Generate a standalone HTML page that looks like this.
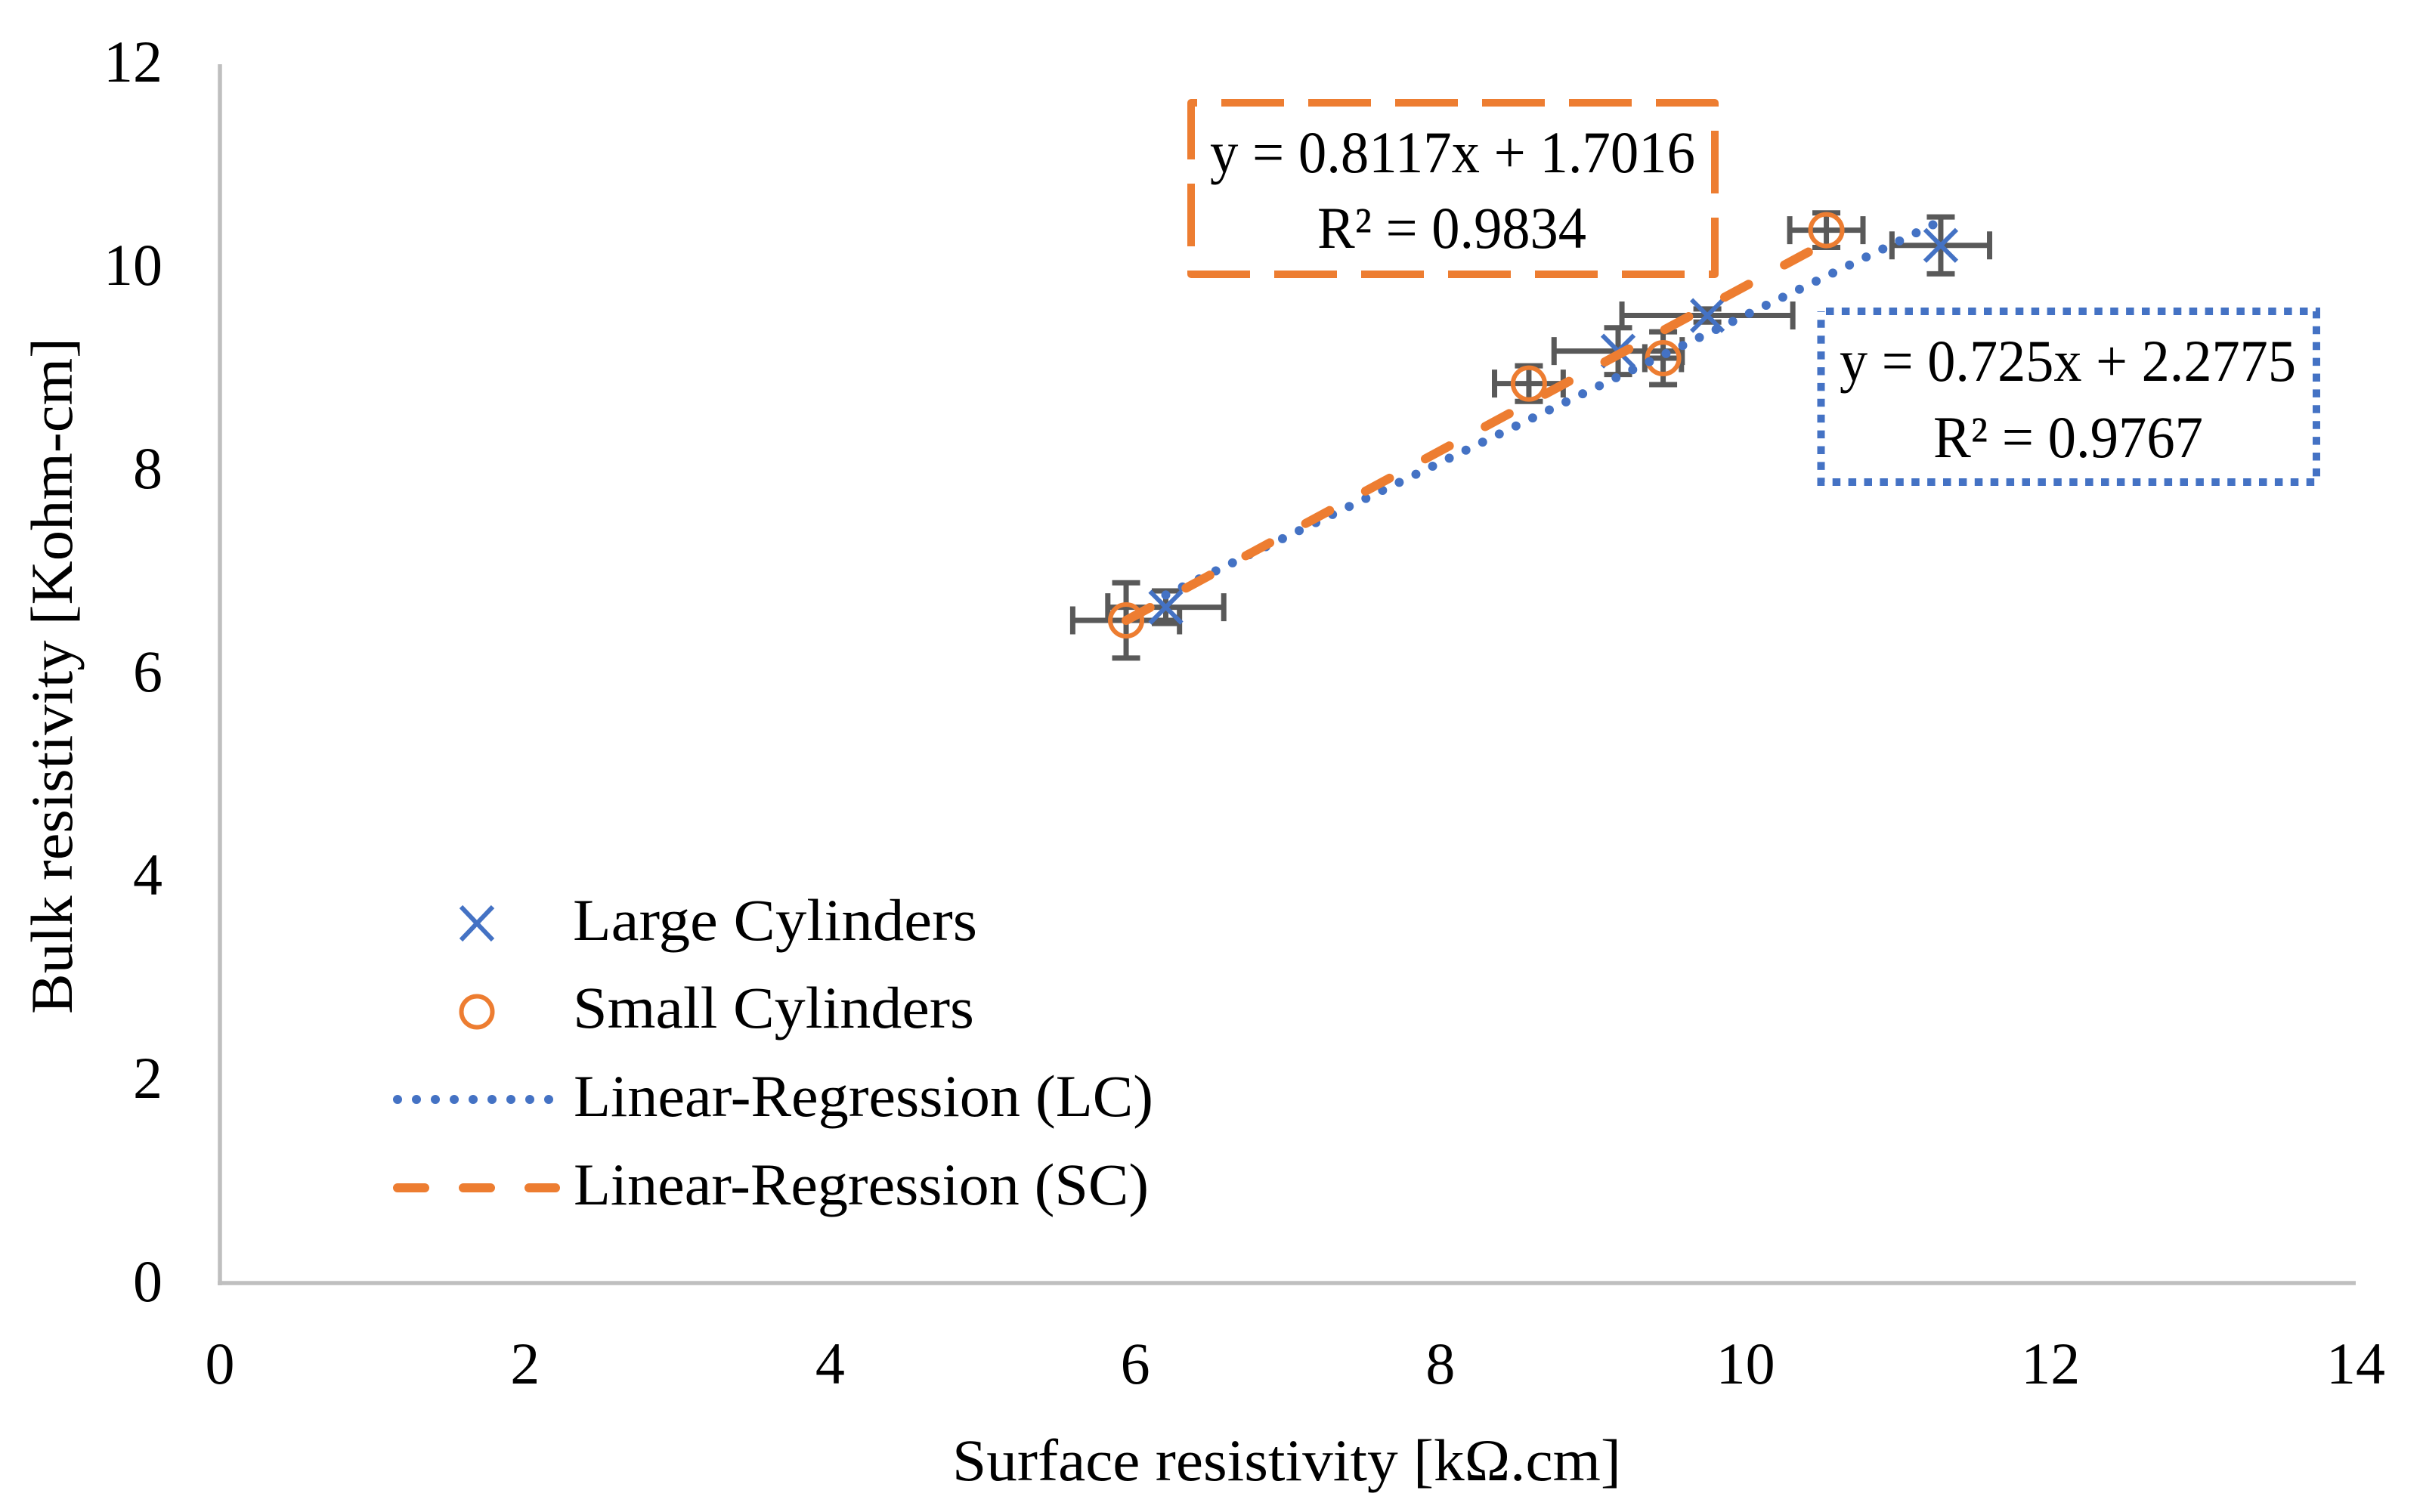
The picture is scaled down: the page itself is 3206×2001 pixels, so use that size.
<!DOCTYPE html>
<html lang="en">
<head>
<meta charset="utf-8">
<title>Bulk vs surface resistivity</title>
<style>
html,body{margin:0;padding:0;background:#fff;}
svg{display:block;}
text{font-family:"Liberation Serif",serif;fill:#000;font-size:78px;}
</style>
</head>
<body>
<svg id="chart" xmlns="http://www.w3.org/2000/svg" width="3206" height="2001" viewBox="0 0 3206 2001">
  <rect x="0" y="0" width="3206" height="2001" fill="#fff"/>
  <g id="axes"></g>
  <g id="errors"></g>
  <g id="markers"></g>
  <g id="trends"></g>

  <text x="1260" y="1959" textLength="885" lengthAdjust="spacingAndGlyphs">Surface resistivity [kΩ.cm]</text>
  <text transform="translate(95 1342) rotate(-90)" textLength="895" lengthAdjust="spacingAndGlyphs">Bulk resistivity [Kohm-cm]</text>

  <g>
    <path d="M1576 136H2269V363H1576Z" fill="none" stroke="#ed7d31" stroke-width="10" stroke-linejoin="round" stroke-dasharray="83 32" stroke-dashoffset="-40"/>
    <text x="1601" y="228" textLength="642" lengthAdjust="spacingAndGlyphs">y = 0.8117x + 1.7016</text>
    <text x="1743" y="328" textLength="356" lengthAdjust="spacingAndGlyphs">R² = 0.9834</text>
  </g>

  <g>
    <path d="M2409.5 412H3065V638H2409.5Z" fill="none" stroke="#4472c4" stroke-width="10" stroke-dasharray="10.5 10.4" stroke-dashoffset="-6.5"/>
    <text x="2434" y="504" textLength="604" lengthAdjust="spacingAndGlyphs">y = 0.725x + 2.2775</text>
    <text x="2558" y="605" textLength="357" lengthAdjust="spacingAndGlyphs">R² = 0.9767</text>
  </g>

  <g>
    <g>
      <path d="M610 1200L652 1244M652 1200L610 1244" stroke="#4472c4" stroke-width="6" fill="none"/>
      <text x="758" y="1244" textLength="535" lengthAdjust="spacingAndGlyphs">Large Cylinders</text>
    </g>
    <g>
      <circle cx="631" cy="1339" r="20.5" fill="none" stroke="#ed7d31" stroke-width="6"/>
      <text x="758" y="1360" textLength="531" lengthAdjust="spacingAndGlyphs">Small Cylinders</text>
    </g>
    <g>
      <line x1="526" y1="1455" x2="730" y2="1455" stroke="#4472c4" stroke-width="12" stroke-linecap="round" stroke-dasharray="0 25"/>
      <text x="759" y="1477" textLength="767" lengthAdjust="spacingAndGlyphs">Linear-Regression (LC)</text>
    </g>
    <g>
      <line x1="526" y1="1572" x2="735" y2="1572" stroke="#ed7d31" stroke-width="12" stroke-linecap="round" stroke-dasharray="36 51"/>
      <text x="759" y="1594" textLength="761" lengthAdjust="spacingAndGlyphs">Linear-Regression (SC)</text>
    </g>
  </g>
</svg>
<script>
const xTickLabels = [0, 2, 4, 6, 8, 10, 12, 14];
const yTickLabels = [0, 2, 4, 6, 8, 10, 12];

const largeX = [6.2, 9.165, 9.75, 11.28];
const largeY = [6.65, 9.17, 9.52, 10.21];
const largeXErr = [0.38, 0.42, 0.56, 0.32];
const largeYErr = [0.16, 0.23, 0.065, 0.28];

const smallX = [5.94, 8.58, 9.46, 10.53];
const smallY = [6.52, 8.85, 9.1, 10.36];
const smallXErr = [0.35, 0.225, 0.12, 0.24];
const smallYErr = [0.37, 0.175, 0.26, 0.17];

const trendLcX = [6.2, 11.28];
const trendLcY = [6.77, 10.45];
const trendScX = [5.94, 10.53];
const trendScY = [6.52, 10.24];

const NS = 'http://www.w3.org/2000/svg';
const plotLeft = 291, plotRight = 3117, plotBottom = 1698, plotTop = 84;
const xMax = 14, yMax = 12;
function sx(v) { return plotLeft + (v / xMax) * (plotRight - plotLeft); }
function sy(v) { return plotBottom - (v / yMax) * (plotBottom - plotTop); }

function mk(tag, parent, attrs) {
  const el = document.createElementNS(NS, tag);
  for (const k in attrs) el.setAttribute(k, attrs[k]);
  parent.appendChild(el);
  return el;
}

const axes = document.getElementById('axes');
const yAxis = mk('line', axes, {x1: plotLeft, y1: plotTop + 1, x2: plotLeft, y2: plotBottom + 3, stroke: '#bfbfbf', 'stroke-width': 5.5});


const xAxis = mk('line', axes, {x1: plotLeft - 3, y1: plotBottom, x2: plotRight, y2: plotBottom, stroke: '#bfbfbf', 'stroke-width': 5.5});



xTickLabels.forEach(function (v) {
  const t = mk('text', axes, {x: sx(v), y: 1831, 'text-anchor': 'middle'});
  t.textContent = String(v);
  
  
});
yTickLabels.forEach(function (v) {
  const t = mk('text', axes, {x: 215, y: sy(v) + 24, 'text-anchor': 'end'});
  t.textContent = String(v);
  
  
});

const errGroup = document.getElementById('errors');
const CAP = 18.5;
function drawErrors(xs, ys, xe, ye) {
  xs.forEach(function (x, i) {
    const cx = sx(x), cy = sy(ys[i]);
    const x1 = sx(x - xe[i]), x2 = sx(x + xe[i]);
    const y1 = sy(ys[i] + ye[i]), y2 = sy(ys[i] - ye[i]);
    const d = 'M' + x1 + ' ' + cy + 'H' + x2 +
      'M' + x1 + ' ' + (cy - CAP) + 'V' + (cy + CAP) +
      'M' + x2 + ' ' + (cy - CAP) + 'V' + (cy + CAP) +
      'M' + cx + ' ' + y1 + 'V' + y2 +
      'M' + (cx - CAP) + ' ' + y1 + 'H' + (cx + CAP) +
      'M' + (cx - CAP) + ' ' + y2 + 'H' + (cx + CAP);
    const p = mk('path', errGroup, {d: d, fill: 'none', stroke: '#595959', 'stroke-width': 7});
    
    
  });
}
drawErrors(largeX, largeY, largeXErr, largeYErr);
drawErrors(smallX, smallY, smallXErr, smallYErr);

const markerGroup = document.getElementById('markers');
largeX.forEach(function (x, i) {
  const cx = sx(x), cy = sy(largeY[i]), r = 21;
  const d = 'M' + (cx - r) + ' ' + (cy - r) + 'L' + (cx + r) + ' ' + (cy + r) +
    'M' + (cx + r) + ' ' + (cy - r) + 'L' + (cx - r) + ' ' + (cy + r);
  const p = mk('path', markerGroup, {d: d, fill: 'none', stroke: '#4472c4', 'stroke-width': 6});
  
  
});
smallX.forEach(function (x, i) {
  const c = mk('circle', markerGroup, {cx: sx(x), cy: sy(smallY[i]), r: 21, fill: 'none', stroke: '#ed7d31', 'stroke-width': 6});
  
  
});

const trendGroup = document.getElementById('trends');
const lcLine = mk('line', trendGroup, {
  x1: sx(trendLcX[0]), y1: sy(trendLcY[0]), x2: sx(trendLcX[1]), y2: sy(trendLcY[1]),
  stroke: '#4472c4', 'stroke-width': 12, 'stroke-linecap': 'round', 'stroke-dasharray': '0 24.5'
});


const scLine = mk('line', trendGroup, {
  x1: sx(trendScX[0]), y1: sy(trendScY[0]), x2: sx(trendScX[1]), y2: sy(trendScY[1]),
  stroke: '#ed7d31', 'stroke-width': 12, 'stroke-linecap': 'round', 'stroke-dasharray': '36 54'
});


</script>
</body>
</html>
